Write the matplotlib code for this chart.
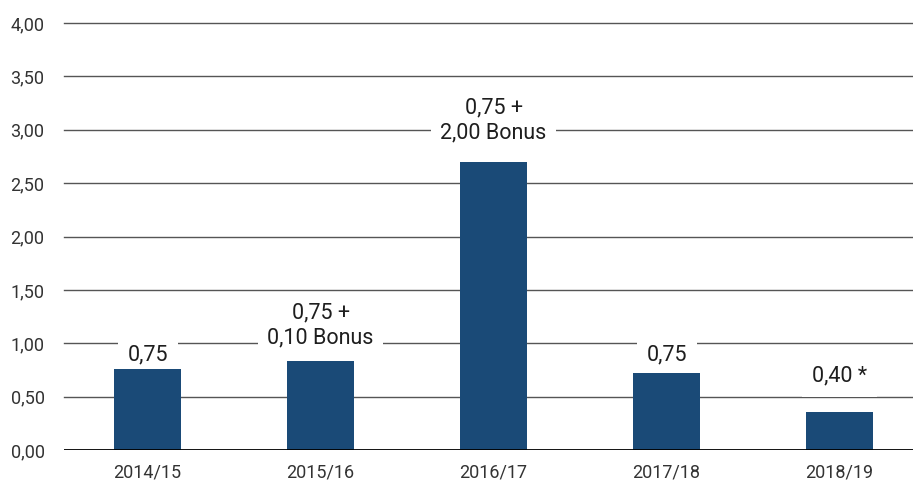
import matplotlib.pyplot as plt

seasons = ["2014/15", "2015/16", "2016/17", "2017/18", "2018/19"]
values = [0.76, 0.83, 2.70, 0.72, 0.36]
labels = ["0,75", "0,75 +\n0,10 Bonus", "0,75 +\n2,00 Bonus", "0,75", "0,40 *"]
yticks = [0.0, 0.5, 1.0, 1.5, 2.0, 2.5, 3.0, 3.5, 4.0]

plt.rcParams["font.family"] = ["Roboto", "DejaVu Sans"]

fig = plt.figure(figsize=(9.13, 4.82), dpi=100)
ax = fig.add_axes([64 / 913, 32 / 482, 1 - 64 / 913, 427 / 482])

x = list(range(len(seasons)))
ax.bar(x, values, width=0.387, color="#1a4a77", zorder=6)

# horizontal grid lines
for t in yticks[1:]:
    ax.axhline(t, color="#555555", linewidth=1.0, zorder=1, clip_on=False)
ax.axhline(0, color="black", linewidth=1.3, zorder=7)

# value labels sit on white boxes that cut the grid lines
label_y = [0.89, 1.17, 3.09, 0.89, 0.69]
for xi, ly, txt in zip(x, label_y, labels):
    ax.text(xi, ly, txt, ha="center", va="center", fontsize=15.5, color="#1e1e1e",
            linespacing=1.25, zorder=5,
            bbox=dict(facecolor="white", edgecolor="none", pad=7))

ax.set_xlim(-0.483, 4.424)
ax.set_ylim(0, 4)
ax.set_xticks(x)
ax.set_xticklabels(seasons)
ax.set_yticks(yticks)
ax.set_yticklabels([f"{t:.2f}".replace(".", ",") for t in yticks])
ax.tick_params(axis="both", length=0, labelsize=13, colors="#333333")
ax.tick_params(axis="y", pad=14)
ax.tick_params(axis="x", pad=10)
for s in ax.spines.values():
    s.set_visible(False)

fig.savefig("out.png", dpi=100)
